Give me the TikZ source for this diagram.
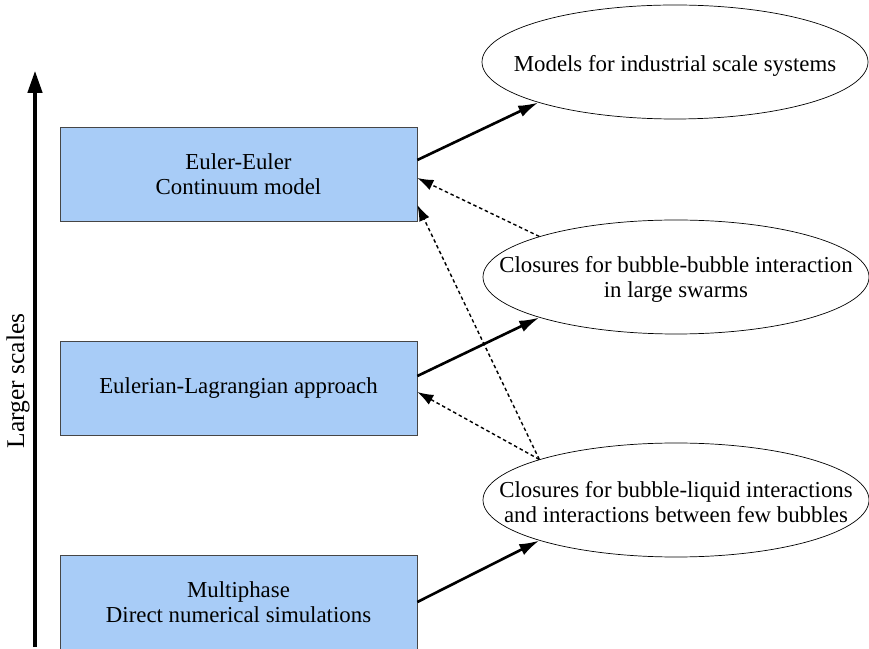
\documentclass[tikz,border=0pt]{standalone}
\usepackage{fontspec}
\setmainfont{Liberation Serif}
\usetikzlibrary{shapes.geometric,arrows.meta}
\definecolor{boxblue}{RGB}{168,204,247}
\definecolor{boxedge}{RGB}{70,70,70}

\begin{document}
\begin{tikzpicture}[
  txt/.style={align=center, font=\fontsize{13}{14.2}\selectfont},
  model/.style={rectangle, draw=boxedge, fill=boxblue, minimum width=7.14cm, minimum height=1.88cm, inner sep=0pt, txt},
  closure/.style={ellipse, draw, minimum width=7.72cm, minimum height=2.28cm, inner sep=0pt},
  link/.style={line width=1.5pt, -{Latex[length=4mm,width=2.4mm]}},
  feed/.style={line width=0.8pt, dash pattern=on 2pt off 1.6pt, -{Latex[length=3.2mm,width=2.2mm]}}
]
  \useasboundingbox (0,0) rectangle (17.38,12.96);
  % scale axis
  \coordinate (lo) at (0.7,0.02);
  \coordinate (hi) at (0.7,11.54);
  \draw[line width=1.8pt, -{Triangle[length=4.4mm,width=2.9mm]}] (lo) -- (hi);
  \node[rotate=90, font=\fontsize{14.5}{17}\selectfont] (scales) at (0.36,5.34) {Larger scales};
  % models
  \node[model] (ee) at (4.77,9.48) {Euler-Euler\\Continuum model};
  \node[model] (el) at (4.77,5.2) {Eulerian-Lagrangian approach};
  \node[model] (dns) at (4.77,0.92) {Multiphase\\Direct numerical simulations};
  % closures
  \node[closure, label={[txt,yshift=-0.07cm]center:Models for industrial scale systems}] (m1) at (13.5,11.72) {};
  \node[closure, label={[txt,yshift=-0.05cm]center:Closures for bubble-bubble interaction\\in large swarms}] (m2) at (13.52,7.42) {};
  \node[closure, label={[txt,yshift=-0.05cm]center:Closures for bubble-liquid interactions\\and interactions between few bubbles}] (m3) at (13.52,2.96) {};
  % connectors
  \draw[link] ([yshift=0.28cm]ee.east) -- (m1.south west);
  \draw[link] ([yshift=0.24cm]el.east) -- (m2.south west);
  \draw[link] (dns.east) -- (m3.south west);
  \draw[feed] (m2.north west) -- ([yshift=-0.08cm]ee.east);
  \draw[feed] (m3.north west) -- ([yshift=-0.62cm]ee.east);
  \draw[feed] (m3.north west) -- ([yshift=-0.08cm]el.east);
\end{tikzpicture}
\end{document}
